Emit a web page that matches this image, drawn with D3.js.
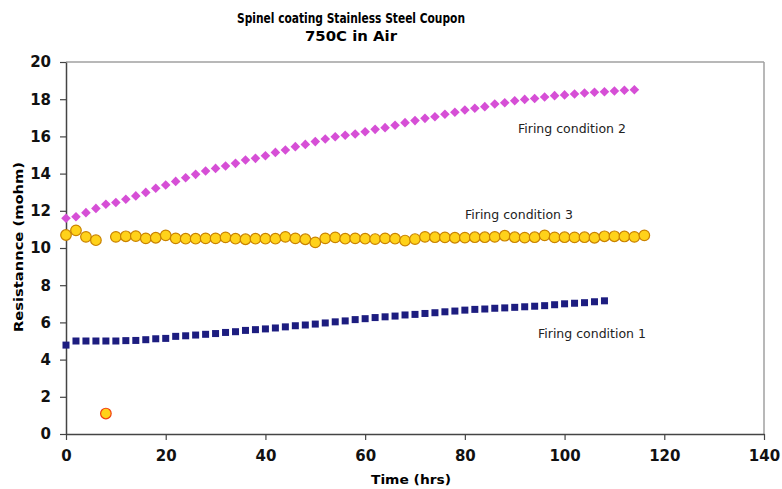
<!DOCTYPE html>
<html>
<head>
<meta charset="utf-8">
<script src="https://cdn.jsdelivr.net/npm/d3@7"></script>
<style>
  html, body { margin: 0; padding: 0; background: #fff; }
  svg { display: block; }
  .tick text { font-family: "DejaVu Sans", Verdana, sans-serif; font-weight: bold; font-size: 15px; fill: #111; }
</style>
</head>
<body>
<svg id="chart" width="782" height="489"></svg>
<script>
// Resistance of spinel-coated stainless steel coupons at 750C in air
const cond1Hours = [0,2,4,6,8,10,12,14,16,18,20,22,24,26,28,30,32,34,36,38,40,42,44,46,48,50,52,54,56,58,60,62,64,66,68,70,72,74,76,78,80,82,84,86,88,90,92,94,96,98,100,102,104,106,108];
const cond1Values = [4.78,5.0,5.0,5.0,5.0,5.0,5.02,5.03,5.07,5.12,5.14,5.25,5.28,5.32,5.36,5.4,5.46,5.5,5.57,5.61,5.65,5.7,5.76,5.82,5.86,5.91,5.97,6.03,6.08,6.15,6.2,6.26,6.3,6.34,6.4,6.43,6.48,6.52,6.57,6.61,6.66,6.7,6.72,6.76,6.78,6.81,6.84,6.87,6.9,6.95,7.0,7.03,7.06,7.11,7.16];

const cond2Hours = [0,2,4,6,8,10,12,14,16,18,20,22,24,26,28,30,32,34,36,38,40,42,44,46,48,50,52,54,56,58,60,62,64,66,68,70,72,74,76,78,80,82,84,86,88,90,92,94,96,98,100,102,104,106,108,110,112,114];
const cond2Values = [11.6,11.68,11.9,12.13,12.35,12.45,12.62,12.8,12.99,13.21,13.39,13.58,13.78,13.96,14.14,14.28,14.41,14.55,14.73,14.82,14.96,15.14,15.27,15.45,15.57,15.72,15.86,15.98,16.06,16.13,16.25,16.38,16.47,16.6,16.74,16.85,16.97,17.06,17.19,17.3,17.42,17.51,17.6,17.74,17.81,17.92,17.99,18.04,18.12,18.19,18.23,18.28,18.33,18.37,18.4,18.44,18.48,18.51];

const cond3Hours = [0,2,4,6,8,10,12,14,16,18,20,22,24,26,28,30,32,34,36,38,40,42,44,46,48,50,52,54,56,58,60,62,64,66,68,70,72,74,76,78,80,82,84,86,88,90,92,94,96,98,100,102,104,106,108,110,112,114,116];
const cond3Values = [10.7,10.95,10.6,10.42,1.1,10.6,10.63,10.64,10.52,10.55,10.68,10.52,10.5,10.5,10.52,10.52,10.57,10.5,10.47,10.5,10.5,10.5,10.6,10.52,10.47,10.3,10.52,10.57,10.5,10.52,10.5,10.48,10.52,10.5,10.4,10.48,10.6,10.58,10.57,10.55,10.56,10.58,10.58,10.6,10.66,10.58,10.56,10.58,10.68,10.57,10.58,10.57,10.58,10.55,10.63,10.63,10.62,10.6,10.68];

const xTicks = [0,20,40,60,80,100,120,140];
const yTicks = [0,2,4,6,8,10,12,14,16,18,20];

const titleLines = ["Spinel coating Stainless Steel Coupon", "750C in Air"];
const xTitle = "Time (hrs)";
const yTitle = "Resistannce (mohm)";
const seriesLabels = ["Firing condition 1", "Firing condition 2", "Firing condition 3"];

const svg = d3.select("#chart");
const margin = { left: 66, top: 62, right: 18, bottom: 55 };
const W = 782, H = 489;
const iw = W - margin.left - margin.right;
const ih = H - margin.top - margin.bottom;

const x = d3.scaleLinear().domain([0, 140]).range([0, iw]);
const y = d3.scaleLinear().domain([0, 20]).range([ih, 0]);

const g = svg.append("g").attr("transform", `translate(${margin.left},${margin.top})`);

// plot frame: light top/right edges
g.append("line").attr("x1", 0).attr("x2", iw).attr("y1", 0).attr("y2", 0).attr("stroke", "#a0a0a0").attr("stroke-width", 1.5);
g.append("line").attr("x1", iw).attr("x2", iw).attr("y1", 0).attr("y2", ih).attr("stroke", "#a0a0a0").attr("stroke-width", 1.5);

// axes
const xAxis = g.append("g").attr("transform", `translate(0,${ih})`)
  .call(d3.axisBottom(x).tickValues(xTicks).tickSize(6).tickPadding(10).tickSizeOuter(0));
const yAxis = g.append("g")
  .call(d3.axisLeft(y).tickValues(yTicks).tickSize(6).tickPadding(9).tickSizeOuter(0));
[xAxis, yAxis].forEach(a => {
  a.select(".domain").attr("stroke", "#444").attr("stroke-width", 1.5);
  a.selectAll(".tick line").attr("stroke", "#444").attr("stroke-width", 1.2);
});

// series 1: navy squares
const s1 = cond1Hours.map((h, i) => ({ h, v: cond1Values[i] }));
g.append("g").selectAll("rect").data(s1).join("rect")
  .attr("x", d => x(d.h) - 3.5).attr("y", d => y(d.v) - 3.5)
  .attr("width", 7).attr("height", 7)
  .attr("fill", "#1d1d80");

// series 2: magenta diamonds
const s2 = cond2Hours.map((h, i) => ({ h, v: cond2Values[i] }));
g.append("g").selectAll("path").data(s2).join("path")
  .attr("d", "M0,-4.8L4.8,0L0,4.8L-4.8,0Z")
  .attr("transform", d => `translate(${x(d.h)},${y(d.v)})`)
  .attr("fill", "#d64fd6");

// series 3: yellow circles
const s3 = cond3Hours.map((h, i) => ({ h, v: cond3Values[i] }));
g.append("g").selectAll("circle").data(s3).join("circle")
  .attr("cx", d => x(d.h)).attr("cy", d => y(d.v)).attr("r", 5.3)
  .attr("fill", "#ffd21a")
  .attr("stroke", d => d.v < 5 ? "#f04010" : "#c98200")
  .attr("stroke-width", 1.2);

// series labels
const labelFont = "\"DejaVu Sans\", Verdana, sans-serif";
const labelPos = [[538, 338], [518, 133], [465, 219]];
seriesLabels.forEach((t, i) => {
  svg.append("text").attr("x", labelPos[i][0]).attr("y", labelPos[i][1])
    .attr("font-family", labelFont).attr("font-size", 12.5).attr("fill", "#222")
    .text(t);
});

// titles
svg.append("text").attr("x", 351).attr("y", 23).attr("text-anchor", "middle")
  .attr("font-family", labelFont).attr("font-weight", "bold").attr("font-size", 14)
  .attr("textLength", 228).attr("lengthAdjust", "spacingAndGlyphs")
  .text(titleLines[0]);
svg.append("text").attr("x", 351).attr("y", 41).attr("text-anchor", "middle")
  .attr("font-family", labelFont).attr("font-weight", "bold").attr("font-size", 14)
  .attr("textLength", 92).attr("lengthAdjust", "spacingAndGlyphs")
  .text(titleLines[1]);

svg.append("text").attr("x", margin.left + x(70) - 4).attr("y", 484).attr("text-anchor", "middle")
  .attr("font-family", labelFont).attr("font-weight", "bold").attr("font-size", 13)
  .attr("textLength", 80).attr("lengthAdjust", "spacingAndGlyphs")
  .text(xTitle);

svg.append("text").attr("transform", "translate(23,247) rotate(-90)").attr("text-anchor", "middle")
  .attr("font-family", labelFont).attr("font-weight", "bold").attr("font-size", 13)
  .attr("textLength", 170).attr("lengthAdjust", "spacingAndGlyphs")
  .text(yTitle);
</script>
</body>
</html>
